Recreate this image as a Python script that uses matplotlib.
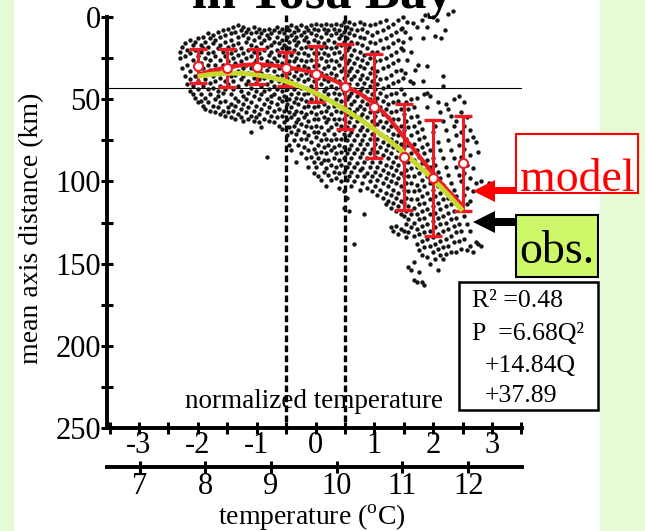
import matplotlib
matplotlib.use('Agg')
import matplotlib.pyplot as plt
from matplotlib.patches import Rectangle, Polygon
from matplotlib.transforms import IdentityTransform
from matplotlib.ticker import MultipleLocator

plt.rcParams['font.family'] = ['Liberation Serif', 'DejaVu Serif']
plt.rcParams['mathtext.fontset'] = 'custom'
plt.rcParams['mathtext.rm'] = 'Liberation Serif'
plt.rcParams['axes.unicode_minus'] = False

# ---------------- data ----------------
# error-bar summary at normalized temperature bins
bin_x = [-2.0, -1.5, -1.0, -0.5, 0.0, 0.5, 1.0, 1.5, 2.0, 2.5]
bin_mean = [30.0, 31.0, 30.5, 31.0, 34.7, 42.6, 54.7, 85.0, 97.7, 88.6]
bin_low = [19.5, 19.5, 19.5, 21.0, 17.5, 16.3, 22.4, 52.7, 62.8, 60.3]
bin_high = [40.0, 42.5, 41.0, 41.8, 52.0, 68.4, 86.0, 117.4, 133.0, 117.8]

# curves
curve_x = [-2.0, -1.75, -1.5, -1.25, -1.0, -0.75, -0.5, -0.25, 0.0, 0.25,
           0.5, 0.75, 1.0, 1.25, 1.5, 1.75, 2.0, 2.25, 2.5]
model_y = [35.1, 32.5, 30.5, 29.3, 28.7, 29.3, 30.5, 32.0, 34.1, 37.5,
           41.8, 46.5, 52.7, 61.5, 73.0, 84.0, 95.6, 105.5, 114.8]
obs_y = [36.1, 34.8, 34.1, 34.3, 35.1, 36.8, 39.1, 42.3, 46.2, 51.0,
         56.3, 62.0, 68.4, 75.0, 82.5, 90.5, 98.7, 108.0, 117.8]

# scatter cloud, read column by column (normalized temperature -> km)
cloud_cols = [
    (-2.31, [21, 25]),
    (-2.27, [18, 31]),
    (-2.22, [16, 24, 36]),
    (-2.18, [20, 29, 41]),
    (-2.13, [14, 22, 33, 38, 45]),
    (-2.09, [17, 26, 42, 47]),
    (-2.04, [15, 20, 30, 36, 49]),
    (-2.00, [13, 24, 39, 44, 52]),
    (-1.95, [17, 21, 28, 35, 47, 51]),
    (-1.92, [12, 19, 31, 42, 54]),
    (-1.87, [15, 25, 34, 38, 49, 56]),
    (-1.83, [10, 18, 22, 29, 44, 52]),
    (-1.79, [13, 26, 32, 40, 47, 57]),
    (-1.74, [11, 16, 21, 36, 43, 54]),
    (-1.70, [14, 24, 29, 39, 50, 58]),
    (-1.66, [9, 19, 33, 45, 48, 55]),
    (-1.62, [12, 17, 26, 37, 42, 52, 59]),
    (-1.57, [8, 21, 29, 34, 46, 57]),
    (-1.53, [11, 15, 24, 39, 44, 51, 60]),
    (-1.49, [7, 18, 27, 32, 41, 55, 58]),
    (-1.44, [10, 14, 22, 36, 47, 53, 61]),
    (-1.40, [6, 17, 25, 30, 39, 44, 57]),
    (-1.36, [9, 20, 28, 35, 49, 54, 62]),
    (-1.31, [5, 12, 16, 23, 33, 42, 51, 59]),
    (-1.27, [8, 19, 27, 38, 45, 56, 61]),
    (-1.23, [6, 11, 22, 31, 36, 48, 53, 63]),
    (-1.18, [9, 15, 25, 29, 41, 50, 58]),
    (-1.14, [7, 13, 20, 34, 39, 46, 55, 62]),
    (-1.09, [10, 17, 24, 31, 43, 52, 60, 70]),
    (-1.05, [6, 14, 21, 28, 37, 48, 57, 63]),
    (-1.01, [9, 18, 26, 33, 40, 45, 54, 61]),
    (-0.96, [7, 12, 22, 30, 38, 50, 59, 64]),
    (-0.92, [10, 16, 25, 34, 42, 47, 56, 67]),
    (-0.88, [8, 14, 20, 29, 37, 45, 53, 62]),
    (-0.83, [11, 18, 27, 32, 41, 50, 58, 85]),
    (-0.79, [7, 13, 23, 30, 36, 44, 55, 63]),
    (-0.75, [10, 17, 21, 28, 39, 48, 52, 60]),
    (-0.70, [8, 15, 25, 33, 42, 47, 57, 64]),
    (-0.66, [6, 12, 20, 27, 36, 44, 53, 61]),
    (-0.62, [9, 16, 23, 31, 39, 49, 56, 66]),
    (-0.57, [7, 14, 19, 28, 35, 45, 51, 60, 68]),
    (-0.53, [10, 17, 24, 33, 41, 48, 57, 64]),
    (-0.49, [6, 12, 21, 29, 37, 44, 53, 62, 72]),
    (-0.45, [8, 15, 19, 27, 34, 42, 50, 58, 67, 78]),
    (-0.41, [5, 11, 23, 31, 39, 47, 55, 61, 70, 81]),
    (-0.37, [9, 14, 20, 27, 36, 44, 52, 59, 66, 75]),
    (-0.33, [6, 12, 17, 25, 33, 41, 49, 57, 64, 71, 88]),
    (-0.29, [8, 15, 22, 30, 38, 46, 53, 62, 69, 78]),
    (-0.24, [5, 11, 19, 26, 35, 43, 50, 58, 65, 74, 83]),
    (-0.20, [9, 14, 22, 30, 39, 47, 55, 61, 70, 79]),
    (-0.16, [6, 12, 18, 27, 34, 43, 51, 59, 66, 74, 86]),
    (-0.12, [8, 15, 23, 31, 38, 46, 54, 63, 72, 81, 91]),
    (-0.07, [5, 10, 19, 26, 35, 42, 50, 58, 67, 76, 85]),
    (-0.03, [7, 14, 22, 30, 39, 46, 55, 62, 70, 80, 88, 95]),
    (0.01, [4, 11, 18, 26, 33, 43, 51, 59, 66, 73, 83, 91]),
    (0.05, [8, 15, 22, 29, 37, 47, 54, 62, 70, 78, 86, 97]),
    (0.10, [5, 12, 19, 25, 34, 41, 50, 58, 67, 75, 82, 89, 99]),
    (0.14, [7, 16, 22, 31, 38, 45, 53, 61, 71, 79, 87, 94]),
    (0.18, [4, 10, 18, 27, 35, 43, 50, 57, 64, 74, 83, 92, 103]),
    (0.22, [8, 14, 23, 30, 39, 47, 55, 62, 69, 78, 87, 96]),
    (0.27, [5, 11, 19, 26, 34, 42, 51, 59, 67, 75, 81, 90, 99]),
    (0.31, [7, 15, 22, 31, 38, 46, 54, 62, 71, 79, 86, 94]),
    (0.35, [4, 10, 18, 27, 35, 43, 50, 57, 65, 74, 83, 91, 98]),
    (0.40, [8, 13, 21, 29, 39, 47, 54, 62, 69, 78, 87, 95, 104]),
    (0.44, [5, 11, 17, 25, 33, 42, 51, 58, 66, 74, 82, 90, 100]),
    (0.48, [3, 9, 15, 23, 31, 37, 46, 55, 62, 71, 79, 86, 94, 106, 116]),
    (0.53, [6, 13, 20, 28, 35, 43, 50, 59, 67, 75, 83, 91, 99, 110]),
    (0.57, [3, 10, 18, 26, 33, 41, 48, 56, 64, 72, 80, 89, 97, 118]),
    (0.61, [7, 15, 23, 31, 38, 46, 53, 61, 70, 78, 86, 94, 103]),
    (0.66, [4, 11, 20, 28, 36, 44, 51, 58, 66, 75, 83, 91, 100, 138]),
    (0.70, [8, 16, 25, 33, 41, 48, 56, 63, 72, 80, 89, 97]),
    (0.75, [3, 12, 21, 30, 38, 45, 54, 61, 69, 77, 85, 93, 105]),
    (0.79, [7, 17, 26, 35, 43, 51, 59, 67, 75, 83, 92, 101]),
    (0.83, [4, 13, 23, 31, 40, 48, 56, 64, 72, 80, 88, 97, 120]),
    (0.88, [9, 19, 28, 37, 45, 53, 61, 69, 77, 86, 95, 104]),
    (0.92, [5, 15, 25, 34, 42, 50, 58, 66, 74, 83, 91, 100]),
    (0.96, [11, 21, 31, 39, 47, 55, 63, 71, 80, 88, 97, 106]),
    (1.01, [4, 16, 27, 36, 44, 52, 60, 69, 77, 85, 94, 103]),
    (1.05, [9, 21, 33, 41, 49, 57, 65, 74, 82, 91, 99, 108]),
    (1.10, [3, 14, 26, 38, 46, 55, 63, 71, 79, 88, 96, 105]),
    (1.14, [8, 19, 31, 43, 51, 59, 67, 76, 84, 93, 101, 110]),
    (1.19, [2, 13, 25, 37, 48, 56, 64, 73, 81, 90, 98, 107, 114]),
    (1.23, [6, 18, 30, 42, 53, 61, 69, 78, 86, 95, 103, 112]),
    (1.28, [11, 23, 35, 47, 58, 66, 74, 83, 91, 100, 108, 116, 128]),
    (1.32, [4, 16, 28, 40, 52, 62, 71, 79, 88, 96, 105, 113, 130]),
    (1.37, [9, 21, 33, 46, 57, 67, 76, 85, 93, 101, 110, 118, 127]),
    (1.41, [2, 14, 26, 39, 51, 62, 72, 81, 90, 98, 107, 115, 132]),
    (1.45, [7, 19, 32, 44, 56, 66, 77, 86, 95, 103, 112, 120, 129]),
    (1.50, [47, 59, 69, 79, 89, 97, 105, 113, 121, 130]),
    (1.54, [52, 63, 74, 84, 93, 101, 110, 118, 126, 134]),
    (1.58, [56, 67, 78, 88, 97, 106, 115, 123, 131, 152]),
    (1.63, [50, 61, 72, 83, 92, 101, 111, 120, 128, 154]),
    (1.67, [55, 66, 77, 87, 97, 106, 116, 125, 133, 149, 160]),
    (1.72, [49, 60, 70, 81, 91, 102, 111, 120, 129, 138, 161]),
    (1.76, [64, 74, 85, 95, 105, 114, 123, 132, 142, 155]),
    (1.81, [68, 79, 89, 99, 109, 118, 127, 136, 145, 161]),
    (1.85, [47, 73, 83, 93, 103, 113, 122, 131, 140, 163]),
    (1.90, [46, 55, 77, 87, 97, 107, 117, 126, 135, 146]),
    (1.94, [48, 81, 91, 101, 111, 120, 130, 139, 150]),
    (1.99, [70, 86, 95, 105, 115, 124, 134, 143]),
    (2.03, [66, 90, 99, 109, 119, 128, 138, 147]),
    (2.08, [52, 76, 94, 103, 113, 122, 132, 141, 154]),
    (2.12, [58, 81, 98, 107, 117, 126, 136, 145]),
    (2.17, [63, 86, 102, 111, 121, 130, 140, 147]),
    (2.21, [53, 69, 91, 106, 115, 125, 135, 144]),
    (2.26, [56, 75, 96, 110, 119, 129, 139]),
    (2.30, [60, 81, 101, 114, 123, 133, 143]),
    (2.35, [50, 66, 86, 105, 118, 127, 137]),
    (2.39, [63, 72, 91, 109, 122, 131, 143]),
    (2.44, [48, 78, 96, 113, 126, 136]),
    (2.48, [58, 70, 85, 100, 117, 130, 141]),
    (2.53, [52, 66, 80, 95, 108, 121, 135]),
    (2.57, [61, 75, 90, 104, 114, 126, 142]),
    (2.62, [69, 84, 98, 112, 130, 139]),
    (2.67, [73, 92, 106, 143]),
    (2.72, [76, 101, 137]),
    (2.77, [82, 138]),
    (2.81, [100, 139]),
    (2.95, [101]),
]
# sparse points in the upper right of the cloud
sparse_x = [1.49, 1.55, 1.47, 1.52, 1.66, 1.72, 1.81, 1.86, 2.00, 2.06, 1.89,
            2.26, 2.34, 2.20, 1.49, 1.60, 1.83, 2.03, 2.14, 1.49, 1.63, 1.55,
            1.75, 1.89, 1.69, 1.52, 1.49, 1.60, 1.66, 1.83, 2.17, 2.17]
sparse_y = [-0.2, 2.8, 6.9, 8.9, 3.9, 5.9, 1.8, -1.2, -0.2, 1.8, 5.9,
            -1.8, -3.8, 7.9, 15, 13, 13, 11.6, 13, 20, 21, 26,
            29, 30, 32, 34, 37, 39, 40, 39, 36, 42]

hline_km = 43
dotted_x = [-0.5, 0.5]
norm_ticks = [-3, -2, -1, 0, 1, 2, 3]
norm_labels = ['-3', '-2', '-1', '0', '1', '2', '3']
temp_ticks = [7, 8, 9, 10, 11, 12]
temp_labels = ['7', '8', '9', '10', '11', '12']
y_ticks = [0, 50, 100, 150, 200, 250]
y_labels = ['0', '50', '100', '150', '200', '250']
fit_lines = ['R² =0.48', 'P  =6.68Q²', '+14.84Q', '+37.89']

# ---------------- figure ----------------
W, H = 645, 531
fig = plt.figure(figsize=(W / 100, H / 100), dpi=100)
fig.patch.set_facecolor('#e6fad6')
fig.add_artist(Rectangle((14 / W, 0), (600 - 14) / W, 1, transform=fig.transFigure,
                         fc='white', ec='none', zorder=0))

def fx(x):
    return x / W

def fy(y):
    return 1 - y / H

ax = fig.add_axes([107 / W, 1 - 428 / H, 415 / W, 411 / H])
ax.set_facecolor('none')
ax.set_xlim(-3.544, 3.51)
ax.set_ylim(250, 0)

cx, cy = [], []
for xv, ys in cloud_cols:
    for yv in ys:
        cx.append(xv)
        cy.append(yv)
cx += sparse_x
cy += sparse_y
ax.scatter(cx, cy, s=10, c='#151515', linewidths=0, zorder=2, clip_on=False)

ax.axhline(hline_km, color='black', lw=0.8, zorder=1.5)
for xv in dotted_x:
    ax.plot([xv, xv], [-1, 250], color='black', lw=2.4, dashes=(2.0, 1.0),
            clip_on=False, zorder=1.8)

red = '#ec1c24'
yerr = [[m - l for m, l in zip(bin_mean, bin_low)],
        [h - m for m, h in zip(bin_mean, bin_high)]]
ax.errorbar(bin_x, bin_mean, yerr=yerr, fmt='none', ecolor=red, elinewidth=2.2,
            capsize=6.5, capthick=2.4, zorder=3)
ax.plot(curve_x, model_y, color=red, lw=3.0, zorder=4, solid_capstyle='butt')
ax.plot(curve_x, obs_y, color='#c6d92c', lw=3.6, zorder=5, solid_capstyle='butt')
ax.plot(bin_x, bin_mean, 'o', ms=6.5, mfc='white', mec=red, mew=1.5, zorder=6)

for s in ['top', 'right']:
    ax.spines[s].set_visible(False)
for s in ['left', 'bottom']:
    ax.spines[s].set_linewidth(2.8)

ax.set_xticks(norm_ticks, labels=norm_labels)
ax.xaxis.set_minor_locator(MultipleLocator(0.5))
ax.set_yticks(y_ticks, labels=y_labels)
ax.yaxis.set_minor_locator(MultipleLocator(25))
ax.tick_params(which='both', direction='inout', length=9, width=2.2)
ax.tick_params(axis='y', labelsize=22, pad=0)
ax.tick_params(axis='x', labelsize=22, pad=-2)

sec = ax.secondary_xaxis(-39 / 411, functions=(lambda n: 9.677 + 0.8954 * n,
                                                lambda t: (t - 9.677) / 0.8954))
sec.set_xticks(temp_ticks, labels=temp_labels)
sec.spines['bottom'].set_linewidth(2.8)
sec.tick_params(direction='inout', length=9, width=2.2, labelsize=22, pad=-1)

ax.text(-0.02, 238, 'normalized temperature', ha='center', va='baseline', fontsize=19.5)
fig.text(fx(32), fy(228), 'mean axis distance (km)', rotation=90, ha='center',
         va='center', fontsize=20)
fig.text(fx(312), fy(525), r'temperature ($^{\mathrm{o}}$C)', ha='center',
         va='baseline', fontsize=20)
fig.text(fx(322), fy(8), 'in Tosa Bay', ha='center', va='baseline', fontsize=38,
         fontweight='bold')

# fit box
fig.add_artist(Rectangle((fx(459), fy(410)), (598 - 459) / W, (410 - 282) / H,
                         transform=fig.transFigure, fc='white', ec='black', lw=1.8))
line_pos = [(471.7, 306.7), (471.7, 340), (485, 371.7), (485, 401.7)]
for txt, (px, py) in zip(fit_lines, line_pos):
    fig.text(fx(px), fy(py), txt, ha='left', va='baseline', fontsize=18.5)

# model / obs labels with arrows
idt = IdentityTransform()

def pts(seq):
    return [(x, H - y) for x, y in seq]

fig.add_artist(Rectangle((516, H - 193), 122, 59, transform=idt, fc='white',
                         ec='#ff0000', lw=1.5))
fig.text(fx(577), fy(191), 'model', color='#ff0000', ha='center', va='baseline',
         fontsize=33)
fig.add_artist(Rectangle((516, H - 277), 82, 62, transform=idt, fc='#ccf86a',
                         ec='black', lw=1.5))
fig.text(fx(557), fy(263), 'obs.', color='black', ha='center', va='baseline',
         fontsize=33)
fig.add_artist(Polygon(pts([(516, 187), (495, 187), (495, 180), (473, 191),
                            (495, 202), (495, 194), (516, 194)]),
                       closed=True, transform=idt, fc='#ff0000', ec='none'))
fig.add_artist(Polygon(pts([(516, 218), (495, 218), (495, 211), (473, 222),
                            (495, 233), (495, 226), (516, 226)]),
                       closed=True, transform=idt, fc='black', ec='none'))

fig.savefig('out.png', dpi=100)
